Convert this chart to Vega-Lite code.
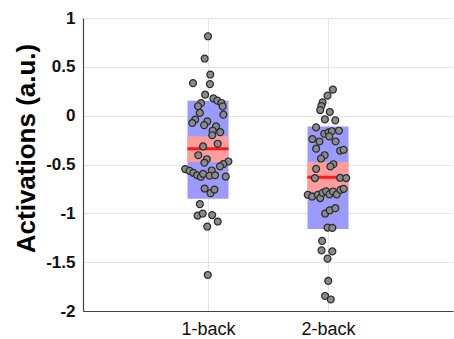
{
  "$schema": "https://vega.github.io/schema/vega-lite/v6.json",
  "width": 370,
  "height": 293,
  "autosize": "none",
  "padding": {"left": 83, "top": 18, "right": 1, "bottom": 28},
  "config": {
    "view": {"stroke": null},
    "font": "Liberation Sans",
    "axis": {"gridColor": "#e4e4e4", "domainColor": "#444", "labelColor": "#111", "titleColor": "#000"}
  },
  "datasets": {
    "stats": [
      {"group": "1-back", "sdHi": 0.154, "ciHi": -0.21, "mean": -0.34, "ciLo": -0.475, "sdLo": -0.85},
      {"group": "2-back", "sdHi": -0.11, "ciHi": -0.475, "mean": -0.63, "ciLo": -0.78, "sdLo": -1.16}
    ],
    "points": [
      {"group": "1-back", "jitter": 0.0, "value": 0.813},
      {"group": "1-back", "jitter": -0.028, "value": 0.585},
      {"group": "1-back", "jitter": 0.019, "value": 0.421},
      {"group": "1-back", "jitter": -0.125, "value": 0.333},
      {"group": "1-back", "jitter": 0.016, "value": 0.323},
      {"group": "1-back", "jitter": -0.024, "value": 0.215},
      {"group": "1-back", "jitter": 0.045, "value": 0.177},
      {"group": "1-back", "jitter": 0.078, "value": 0.154},
      {"group": "1-back", "jitter": 0.112, "value": 0.13},
      {"group": "1-back", "jitter": 0.122, "value": 0.095},
      {"group": "1-back", "jitter": -0.058, "value": 0.128},
      {"group": "1-back", "jitter": -0.083, "value": 0.097},
      {"group": "1-back", "jitter": 0.128, "value": 0.01},
      {"group": "1-back", "jitter": -0.068, "value": 0.028},
      {"group": "1-back", "jitter": -0.107, "value": -0.041},
      {"group": "1-back", "jitter": -0.131, "value": -0.075},
      {"group": "1-back", "jitter": -0.006, "value": -0.058},
      {"group": "1-back", "jitter": -0.032, "value": -0.097},
      {"group": "1-back", "jitter": 0.067, "value": -0.11},
      {"group": "1-back", "jitter": 0.039, "value": -0.154},
      {"group": "1-back", "jitter": 0.102, "value": -0.169},
      {"group": "1-back", "jitter": 0.035, "value": -0.2},
      {"group": "1-back", "jitter": 0.081, "value": -0.287},
      {"group": "1-back", "jitter": -0.041, "value": -0.315},
      {"group": "1-back", "jitter": -0.081, "value": -0.405},
      {"group": "1-back", "jitter": -0.01, "value": -0.446},
      {"group": "1-back", "jitter": -0.03, "value": -0.482},
      {"group": "1-back", "jitter": 0.17, "value": -0.469},
      {"group": "1-back", "jitter": 0.128, "value": -0.495},
      {"group": "1-back", "jitter": 0.1, "value": -0.518},
      {"group": "1-back", "jitter": -0.19, "value": -0.547},
      {"group": "1-back", "jitter": -0.154, "value": -0.564},
      {"group": "1-back", "jitter": -0.122, "value": -0.585},
      {"group": "1-back", "jitter": -0.091, "value": -0.61},
      {"group": "1-back", "jitter": -0.06, "value": -0.626},
      {"group": "1-back", "jitter": -0.041, "value": -0.595},
      {"group": "1-back", "jitter": 0.031, "value": -0.561},
      {"group": "1-back", "jitter": 0.013, "value": -0.615},
      {"group": "1-back", "jitter": 0.059, "value": -0.61},
      {"group": "1-back", "jitter": 0.148, "value": -0.623},
      {"group": "1-back", "jitter": -0.028, "value": -0.746},
      {"group": "1-back", "jitter": 0.021, "value": -0.793},
      {"group": "1-back", "jitter": 0.054, "value": -0.756},
      {"group": "1-back", "jitter": -0.068, "value": -0.906},
      {"group": "1-back", "jitter": -0.087, "value": -1.023},
      {"group": "1-back", "jitter": -0.044, "value": -1.002},
      {"group": "1-back", "jitter": 0.035, "value": -1.018},
      {"group": "1-back", "jitter": 0.081, "value": -1.084},
      {"group": "1-back", "jitter": -0.006, "value": -1.135},
      {"group": "1-back", "jitter": -0.002, "value": -1.631},
      {"group": "2-back", "jitter": 0.041, "value": 0.267},
      {"group": "2-back", "jitter": -0.004, "value": 0.205},
      {"group": "2-back", "jitter": -0.045, "value": 0.136},
      {"group": "2-back", "jitter": -0.055, "value": 0.099},
      {"group": "2-back", "jitter": -0.065, "value": 0.058},
      {"group": "2-back", "jitter": 0.015, "value": 0.038},
      {"group": "2-back", "jitter": -0.026, "value": -0.038},
      {"group": "2-back", "jitter": 0.061, "value": -0.048},
      {"group": "2-back", "jitter": -0.099, "value": -0.12},
      {"group": "2-back", "jitter": -0.031, "value": -0.185},
      {"group": "2-back", "jitter": 0.004, "value": -0.171},
      {"group": "2-back", "jitter": 0.032, "value": -0.159},
      {"group": "2-back", "jitter": 0.091, "value": -0.154},
      {"group": "2-back", "jitter": -0.13, "value": -0.239},
      {"group": "2-back", "jitter": -0.071, "value": -0.264},
      {"group": "2-back", "jitter": 0.01, "value": -0.212},
      {"group": "2-back", "jitter": 0.063, "value": -0.264},
      {"group": "2-back", "jitter": -0.099, "value": -0.338},
      {"group": "2-back", "jitter": 0.101, "value": -0.359},
      {"group": "2-back", "jitter": 0.13, "value": -0.349},
      {"group": "2-back", "jitter": -0.028, "value": -0.405},
      {"group": "2-back", "jitter": -0.058, "value": -0.439},
      {"group": "2-back", "jitter": 0.045, "value": -0.497},
      {"group": "2-back", "jitter": 0.02, "value": -0.52},
      {"group": "2-back", "jitter": -0.099, "value": -0.544},
      {"group": "2-back", "jitter": -0.109, "value": -0.639},
      {"group": "2-back", "jitter": 0.101, "value": -0.636},
      {"group": "2-back", "jitter": 0.152, "value": -0.639},
      {"group": "2-back", "jitter": -0.169, "value": -0.81},
      {"group": "2-back", "jitter": -0.132, "value": -0.828},
      {"group": "2-back", "jitter": -0.085, "value": -0.81},
      {"group": "2-back", "jitter": -0.065, "value": -0.844},
      {"group": "2-back", "jitter": -0.045, "value": -0.79},
      {"group": "2-back", "jitter": -0.016, "value": -0.774},
      {"group": "2-back", "jitter": 0.012, "value": -0.805},
      {"group": "2-back", "jitter": 0.041, "value": -0.776},
      {"group": "2-back", "jitter": 0.073, "value": -0.807},
      {"group": "2-back", "jitter": 0.104, "value": -0.759},
      {"group": "2-back", "jitter": 0.131, "value": -0.749},
      {"group": "2-back", "jitter": -0.024, "value": -1.002},
      {"group": "2-back", "jitter": 0.014, "value": -0.969},
      {"group": "2-back", "jitter": 0.061, "value": -0.947},
      {"group": "2-back", "jitter": -0.004, "value": -1.146},
      {"group": "2-back", "jitter": 0.036, "value": -1.149},
      {"group": "2-back", "jitter": -0.049, "value": -1.282},
      {"group": "2-back", "jitter": -0.054, "value": -1.379},
      {"group": "2-back", "jitter": 0.036, "value": -1.39},
      {"group": "2-back", "jitter": -0.004, "value": -1.464},
      {"group": "2-back", "jitter": 0.002, "value": -1.692},
      {"group": "2-back", "jitter": -0.024, "value": -1.846},
      {"group": "2-back", "jitter": 0.023, "value": -1.882}
    ]
  },
  "layer": [
    {
      "data": {"name": "stats"},
      "transform": [{"calculate": "datum.group === '1-back' ? 1 : 2", "as": "idx"}],
      "mark": {"type": "bar", "width": 41, "color": "#9a9aff", "opacity": 1},
      "encoding": {
        "x": {
          "field": "idx", "type": "quantitative",
          "scale": {"domain": [0, 3], "nice": false, "zero": false},
          "axis": {
            "values": [1, 2], "title": null, "grid": true, "ticks": false,
            "labelExpr": "datum.value == 1 ? '1-back' : '2-back'",
            "labelFontSize": 18, "labelPadding": 9, "domainWidth": 1.2
          }
        },
        "y": {
          "field": "sdHi", "type": "quantitative",
          "scale": {"domain": [-2, 1], "nice": false, "zero": false},
          "axis": {
            "values": [-2, -1.5, -1, -0.5, 0, 0.5, 1],
            "labelExpr": "'' + datum.value",
            "title": "Activations (a.u.)", "titleFontSize": 26, "titleFontWeight": "bold",
            "titlePadding": 6, "titleY": 130,
            "labelFontSize": 17, "labelFontWeight": "bold", "labelPadding": 8,
            "ticks": false, "grid": true, "domainWidth": 1.2
          }
        },
        "y2": {"field": "sdLo"}
      }
    },
    {
      "data": {"name": "stats"},
      "transform": [{"calculate": "datum.group === '1-back' ? 1 : 2", "as": "idx"}],
      "mark": {"type": "bar", "width": 41, "color": "#ff9c9c", "opacity": 1},
      "encoding": {
        "x": {"field": "idx", "type": "quantitative"},
        "y": {"field": "ciHi", "type": "quantitative"},
        "y2": {"field": "ciLo"}
      }
    },
    {
      "data": {"name": "stats"},
      "transform": [{"calculate": "datum.group === '1-back' ? 1 : 2", "as": "idx"}],
      "mark": {"type": "tick", "orient": "horizontal", "size": 41, "thickness": 3, "color": "#ff1a1a", "opacity": 1},
      "encoding": {
        "x": {"field": "idx", "type": "quantitative"},
        "y": {"field": "mean", "type": "quantitative"}
      }
    },
    {
      "data": {"name": "points"},
      "transform": [{"calculate": "(datum.group === '1-back' ? 1 : 2) + datum.jitter", "as": "xpos"}],
      "mark": {"type": "point", "filled": true, "size": 48, "fill": "#8a8a8a", "stroke": "#2a2a2a", "strokeWidth": 1.2, "opacity": 1},
      "encoding": {
        "x": {"field": "xpos", "type": "quantitative"},
        "y": {"field": "value", "type": "quantitative"}
      }
    }
  ]
}
